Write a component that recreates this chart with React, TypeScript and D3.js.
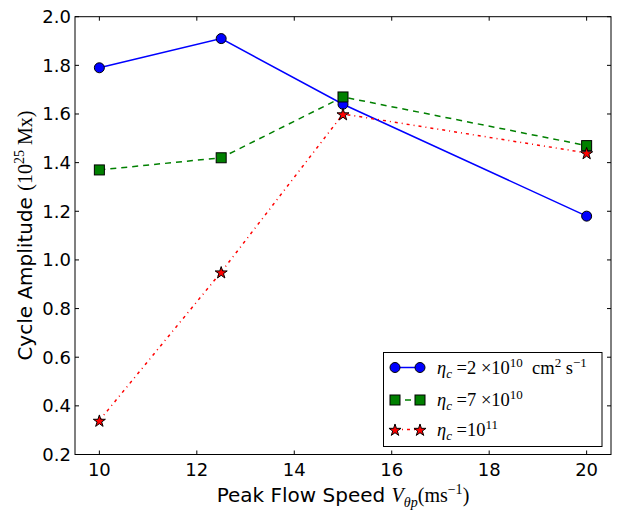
import React from "react";
import * as d3 from "d3";

const speeds = [10, 12.5, 15, 20];
const ampEta2e10 = [1.79, 1.91, 1.64, 1.18];
const ampEta7e10 = [1.37, 1.42, 1.67, 1.47];
const ampEta1e11 = [0.34, 0.95, 1.6, 1.44];
const xTicks = [10, 12, 14, 16, 18, 20];
const yTicks = [0.2, 0.4, 0.6, 0.8, 1.0, 1.2, 1.4, 1.6, 1.8, 2.0];

const W = 628, H = 511;
const L = 75, R = 611, T = 16.7, B = 454.5;
const SANS = "DejaVu Sans";
const SERIF = "Liberation Serif";

export default function App() {
  const x = d3.scaleLinear().domain([9.5, 20.5]).range([L, R]);
  const y = d3.scaleLinear().domain([0.2, 2.0]).range([B, T]);
  const line = d3.line<[number, number]>().x(d => x(d[0])).y(d => y(d[1]));
  const pts = (vals: number[]) => speeds.map((s, i) => [s, vals[i]] as [number, number]);
  const star = d3.symbol().type(d3.symbolStar).size(45)() as string;

  const series = [
    { vals: ampEta2e10, color: "#0000ff", dash: undefined, mk: "circle", off: 0 },
    { vals: ampEta7e10, color: "#008000", dash: "6,5", mk: "square", off: 1 },
    { vals: ampEta1e11, color: "#ff0000", dash: "3,4,1,4", mk: "star", off: 0 },
  ];

  const marker = (mk: string, color: string, cx: number, cy: number, key: any) => {
    if (mk === "circle") return <circle key={key} cx={cx} cy={cy} r={5} fill={color} stroke="#000" strokeWidth={1} />;
    if (mk === "square") return <rect key={key} x={cx - 5} y={cy - 5} width={10} height={10} fill={color} stroke="#000" strokeWidth={1} />;
    return <path key={key} d={star} transform={`translate(${cx},${cy + 0.8})`} fill={color} stroke="#000" strokeWidth={1} />;
  };

  const legendRows = [367.5, 400, 429.5];
  const lx1 = 395, lx2 = 420, tx = 437;
  const LF = 18.5, SF = 13;

  return (
    <svg width={W} height={H} style={{ position: "absolute", left: 0, top: 0, background: "#fff" }}>
      <rect x={0} y={0} width={W} height={H} fill="#fff" />
      {series.map((s, i) => (
        <path key={"l" + i} d={line(pts(s.vals)) as string} fill="none" stroke={s.color} strokeWidth={1.5} strokeDasharray={s.dash} />
      ))}
      {series.map((s, i) => pts(s.vals).map((p, j) => marker(s.mk, s.color, x(p[0]), y(p[1]), `m${i}-${j}`)))}

      {xTicks.map(t => (
        <g key={"xt" + t}>
          <line x1={x(t)} x2={x(t)} y1={B} y2={B - 4} stroke="#000" />
          <line x1={x(t)} x2={x(t)} y1={T} y2={T + 4} stroke="#000" />
          <text x={x(t)} y={476} textAnchor="middle" fontFamily={SANS} fontSize={18}>{t}</text>
        </g>
      ))}
      {yTicks.map(t => (
        <g key={"yt" + t}>
          <line x1={L} x2={L + 4} y1={y(t)} y2={y(t)} stroke="#000" />
          <line x1={R} x2={R - 4} y1={y(t)} y2={y(t)} stroke="#000" />
          <text x={71} y={y(t) + 6.5} textAnchor="end" fontFamily={SANS} fontSize={18}>{t.toFixed(1)}</text>
        </g>
      ))}
      <rect x={L} y={T} width={R - L} height={B - T} fill="none" stroke="#000" strokeWidth={1} />

      <rect x={383.5} y={352.5} width={218.5} height={94} fill="#fff" stroke="#000" strokeWidth={1} />
      {series.map((s, i) => (
        <g key={"lg" + i}>
          <line x1={lx1} x2={lx2} y1={legendRows[i]} y2={legendRows[i]} stroke={s.color} strokeWidth={1.5}
            strokeDasharray={s.dash} strokeDashoffset={s.off} />
          {marker(s.mk, s.color, lx1, legendRows[i], "a")}
          {marker(s.mk, s.color, lx2, legendRows[i], "b")}
        </g>
      ))}
      <text x={tx} y={legendRows[0] + 6} fontFamily={SERIF} fontSize={LF}>
        <tspan fontStyle="italic">η</tspan>
        <tspan fontStyle="italic" fontSize={SF} dy={4}>c</tspan>
        <tspan dy={-4}> =2 ×10</tspan>
        <tspan fontSize={SF} dy={-7}>10</tspan>
        <tspan dy={7}>{"\u00a0\u00a0cm"}</tspan>
        <tspan fontSize={SF} dy={-7}>2</tspan>
        <tspan dy={7}> s</tspan>
        <tspan fontSize={SF} dy={-7}>−1</tspan>
      </text>
      <text x={tx} y={legendRows[1] + 6} fontFamily={SERIF} fontSize={LF}>
        <tspan fontStyle="italic">η</tspan>
        <tspan fontStyle="italic" fontSize={SF} dy={4}>c</tspan>
        <tspan dy={-4}> =7 ×10</tspan>
        <tspan fontSize={SF} dy={-7}>10</tspan>
      </text>
      <text x={tx} y={legendRows[2] + 6} fontFamily={SERIF} fontSize={LF}>
        <tspan fontStyle="italic">η</tspan>
        <tspan fontStyle="italic" fontSize={SF} dy={4}>c</tspan>
        <tspan dy={-4}> =10</tspan>
        <tspan fontSize={SF} dy={-7}>11</tspan>
      </text>

      <text x={(L + R) / 2} y={502} textAnchor="middle" fontFamily={SANS} fontSize={20}>
        <tspan>Peak Flow Speed </tspan>
        <tspan fontFamily={SERIF} fontStyle="italic">V</tspan>
        <tspan fontFamily={SERIF} fontStyle="italic" fontSize={14} dy={5}>θp</tspan>
        <tspan fontFamily={SERIF} dy={-5}>(ms</tspan>
        <tspan fontFamily={SERIF} fontSize={14} dy={-8}>−1</tspan>
        <tspan fontFamily={SERIF} dy={8}>)</tspan>
      </text>
      <text transform={`translate(32,${(T + B) / 2}) rotate(-90)`} textAnchor="middle" fontFamily={SANS} fontSize={20}>
        <tspan>Cycle Amplitude </tspan>
        <tspan fontFamily={SERIF}>(10</tspan>
        <tspan fontFamily={SERIF} fontSize={14} dy={-8}>25</tspan>
        <tspan fontFamily={SERIF} dy={8}> Mx)</tspan>
      </text>
    </svg>
  );
}
